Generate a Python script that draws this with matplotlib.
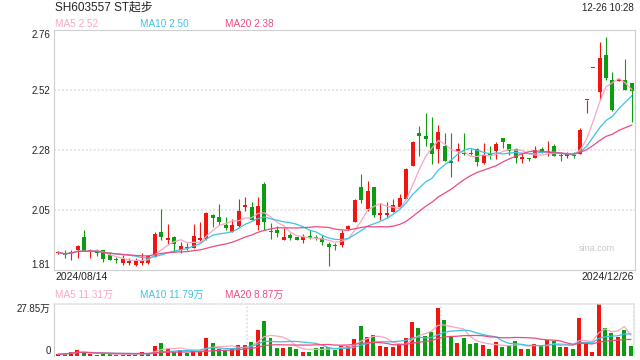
import matplotlib.pyplot as plt
import numpy as np
import pandas as pd

plt.rcParams["font.family"] = ["Liberation Sans", "Noto Sans CJK SC", "DejaVu Sans"]

# daily candles SH603557, 2024-08-14 .. 2024-12-26
opens = [
    1.878, 1.870, 1.878, 1.889, 1.942, 1.884, 1.889, 1.889, 1.869, 1.851,
    1.837, 1.837, 1.829, 1.838, 1.837, 1.862, 1.961, 1.929, 1.941, 1.889,
    1.899, 1.897, 1.929, 1.933, 2.028, 2.019, 1.988, 1.961, 1.984, 2.061,
    2.059, 1.988, 2.150, 1.964, 1.968, 1.929, 1.949, 1.940, 1.929, 1.946,
    1.937, 1.936, 1.913, 1.906, 1.909, 1.971, 2.001, 2.138, 2.050, 2.138,
    2.029, 2.029, 2.041, 2.058, 2.090, 2.222, 2.354, 2.341, 2.312, 2.288,
    2.301, 2.243, 2.281, 2.272, 2.270, 2.288, 2.233, 2.273, 2.281, 2.331,
    2.307, 2.289, 2.250, 2.251, 2.252, 2.289, 2.277, 2.302, 2.264, 2.263,
    2.264, 2.271, 2.482, 2.610, 2.513, 2.661, 2.562, 2.560, 2.562, 2.549,
]
closes = [
    1.880, 1.868, 1.882, 1.905, 1.886, 1.887, 1.879, 1.852, 1.849, 1.849,
    1.853, 1.845, 1.845, 1.845, 1.865, 1.953, 1.941, 1.937, 1.913, 1.905,
    1.897, 1.945, 1.937, 2.036, 2.017, 2.001, 1.976, 1.988, 2.044, 2.067,
    2.008, 2.063, 2.001, 1.961, 1.958, 1.942, 1.938, 1.929, 1.942, 1.936,
    1.936, 1.922, 1.901, 1.905, 1.955, 1.984, 2.087, 2.087, 2.123, 2.028,
    2.037, 2.037, 2.067, 2.096, 2.209, 2.318, 2.341, 2.329, 2.269, 2.358,
    2.243, 2.233, 2.288, 2.268, 2.268, 2.239, 2.265, 2.267, 2.307, 2.315,
    2.281, 2.254, 2.257, 2.249, 2.285, 2.278, 2.280, 2.263, 2.263, 2.272,
    2.263, 2.364, 2.482, 2.610, 2.650, 2.571, 2.443, 2.566, 2.522, 2.520,
]
highs = [
    1.884, 1.889, 1.890, 1.909, 1.969, 1.893, 1.892, 1.890, 1.880, 1.861,
    1.869, 1.857, 1.857, 1.877, 1.869, 1.961, 2.052, 1.992, 1.943, 1.921,
    1.917, 1.992, 2.000, 2.040, 2.030, 2.071, 2.020, 2.012, 2.091, 2.099,
    2.079, 2.099, 2.160, 1.997, 1.984, 1.976, 1.957, 1.940, 1.953, 1.968,
    1.949, 1.949, 1.922, 1.918, 1.968, 1.990, 2.090, 2.190, 2.163, 2.140,
    2.074, 2.080, 2.090, 2.110, 2.213, 2.322, 2.380, 2.433, 2.417, 2.384,
    2.351, 2.351, 2.312, 2.351, 2.288, 2.292, 2.312, 2.302, 2.318, 2.332,
    2.310, 2.292, 2.272, 2.255, 2.302, 2.298, 2.320, 2.310, 2.272, 2.278,
    2.278, 2.373, 2.482, 2.610, 2.714, 2.734, 2.593, 2.568, 2.645, 2.549,
]
lows = [
    1.874, 1.857, 1.850, 1.858, 1.886, 1.858, 1.866, 1.842, 1.848, 1.838,
    1.830, 1.830, 1.826, 1.830, 1.833, 1.862, 1.929, 1.913, 1.881, 1.877,
    1.889, 1.897, 1.921, 1.929, 1.980, 1.988, 1.968, 1.961, 1.980, 2.045,
    2.008, 1.968, 1.968, 1.932, 1.942, 1.929, 1.929, 1.929, 1.918, 1.932,
    1.929, 1.909, 1.825, 1.889, 1.900, 1.968, 2.001, 2.074, 2.045, 2.019,
    2.008, 2.015, 2.041, 2.058, 2.090, 2.222, 2.261, 2.301, 2.230, 2.233,
    2.243, 2.180, 2.243, 2.265, 2.265, 2.222, 2.230, 2.251, 2.251, 2.293,
    2.265, 2.233, 2.235, 2.241, 2.252, 2.272, 2.263, 2.263, 2.241, 2.255,
    2.255, 2.271, 2.430, 2.610, 2.483, 2.562, 2.440, 2.558, 2.522, 2.395,
]
# volume in 万 shares
volumes = [
    0.9, 1.3, 2.2, 3.3, 2.2, 0.9, 0.55, 1.3, 0.9, 0.55,
    0.9, 0.9, 1.3, 2.2, 1.3, 5.5, 6.8, 4.0, 2.2, 3.1,
    1.8, 2.7, 2.2, 9.9, 6.8, 3.7, 3.1, 3.7, 6.0, 6.0,
    7.3, 13.7, 18.7, 9.5, 4.2, 4.2, 4.9, 3.7, 2.4, 2.4,
    4.2, 4.9, 4.6, 3.3, 5.5, 5.5, 9.2, 15.9, 10.4, 11.5,
    5.5, 4.6, 4.9, 6.4, 9.7, 18.1, 14.8, 10.8, 12.6, 25.8,
    19.2, 10.8, 7.1, 9.7, 6.4, 6.8, 6.0, 3.7, 7.7, 4.6,
    5.5, 8.2, 4.0, 4.0, 6.4, 5.1, 8.6, 7.9, 4.6, 4.9,
    4.0, 20.3, 7.3, 2.4, 27.85, 14.8, 12.3, 10.1, 13.7, 5.5,
]

price_ticks = [1.81, 2.0475, 2.285, 2.5225, 2.76]
price_tick_labels = ["1.81", "2.05", "2.28", "2.52", "2.76"]
vol_ticks = [0, 27.85]
vol_tick_labels = ["0", "27.85万"]

title = "SH603557 ST起步"
timestamp = "12-26 10:28"
start_date = "2024/08/14"
end_date = "2024/12/26"
price_ma_labels = ["MA5 2.52", "MA10 2.50", "MA20 2.38"]
vol_ma_labels = ["MA5 11.31万", "MA10 11.79万", "MA20 8.87万"]

RED = "#f0150e"
GREEN = "#0b9c10"
MA_COLORS = ["#f9a6c3", "#3fc2e2", "#ec4b82"]
GRID = "#dedede"
BORDER = "#cfcfcf"
TEXT = "#222222"

df = pd.DataFrame({"open": opens, "close": closes, "high": highs,
                   "low": lows, "vol": volumes})
x = np.arange(len(df))
up = df["close"] >= df["open"]
colors = np.where(up, RED, GREEN)

W, H = 640, 360
fig = plt.figure(figsize=(W / 100, H / 100), dpi=100)


def box(left, top, right, bottom):
    return [left / W, 1 - bottom / H, (right - left) / W, (bottom - top) / H]


def ftext(px, py, s, **kw):
    fig.text(px / W, 1 - py / H, s, **kw)


# price panel
ax = fig.add_axes(box(54, 30, 635, 270))
ax.set_xlim(-0.65, len(df) - 0.5)
ax.set_ylim(price_ticks[0], price_ticks[-1])
for y in price_ticks[1:-1]:
    ax.axhline(y, color=GRID, lw=1.1, ls=(0, (1.3, 1.3)), zorder=0)

body_bottom = np.minimum(df["open"], df["close"])
body_height = np.maximum((df["close"] - df["open"]).abs(), 0.004)
ax.vlines(x, df["low"], df["high"], colors=colors, lw=0.8, zorder=2)
ax.bar(x, body_height, bottom=body_bottom, width=0.62, color=colors,
       linewidth=0, zorder=3)

for n, c in zip([5, 10, 20], MA_COLORS):
    ma = df["close"].rolling(n, min_periods=1).mean()
    ax.plot(x, ma, color=c, lw=0.9, zorder=4)

ax.set_xticks([])
ax.set_yticks(price_ticks)
ax.set_yticklabels(price_tick_labels)
ax.tick_params(axis="y", length=0, labelsize=7, pad=2.5, labelcolor=TEXT)
labels = ax.get_yticklabels()
labels[0].set_verticalalignment("bottom")
labels[-1].set_verticalalignment("top")
for s in ax.spines.values():
    s.set_color(BORDER)
    s.set_linewidth(0.8)
ax.text(0.935, 0.09, "sina.com", transform=ax.transAxes, fontsize=6.5,
        color="#c8c8c8", ha="center", va="center")

# volume panel
axv = fig.add_axes(box(54, 304, 634, 356))
axv.set_xlim(-0.65, len(df) - 0.5)
axv.set_ylim(vol_ticks[0], vol_ticks[-1])
axv.bar(x, df["vol"], width=0.62, color=colors, linewidth=0, zorder=2)
for n, c in zip([5, 10, 20], MA_COLORS):
    ma = df["vol"].rolling(n, min_periods=1).mean()
    axv.plot(x, ma, color=c, lw=0.9, zorder=3)
for fx in (1 / 3, 2 / 3):
    axv.plot([fx, fx], [0, 1], transform=axv.transAxes, color=GRID,
             lw=1.1, ls=(0, (1.3, 1.3)), zorder=0)
axv.set_xticks([])
axv.set_yticks(vol_ticks)
axv.set_yticklabels(vol_tick_labels)
axv.tick_params(axis="y", length=0, labelsize=7, pad=2.5, labelcolor=TEXT)
vlabels = axv.get_yticklabels()
vlabels[0].set_verticalalignment("bottom")
vlabels[-1].set_verticalalignment("top")
vlabels[-1].set_y(vol_ticks[-1])
axv.spines["bottom"].set_visible(False)
axv.spines["left"].set_color(BORDER)
axv.spines["left"].set_linewidth(0.8)
for side in ("top", "right"):
    axv.spines[side].set_color(GRID)
    axv.spines[side].set_linewidth(1.1)
    axv.spines[side].set_linestyle((0, (1.3, 1.3)))

# header texts
ftext(55, 8, title, fontsize=8.5, color=TEXT, ha="left", va="center")
ftext(634, 8, timestamp, fontsize=7, color=TEXT, ha="right", va="center")
for px, s, c in zip([55, 140, 225], price_ma_labels, MA_COLORS):
    ftext(px, 24, s, fontsize=7.2, color=c, ha="left", va="center")
ftext(55, 277, start_date, fontsize=7.5, color=TEXT, ha="left", va="center")
ftext(634, 277, end_date, fontsize=7.5, color=TEXT, ha="right", va="center")
for px, s, c in zip([55, 140, 225], vol_ma_labels, MA_COLORS):
    ftext(px, 295, s, fontsize=7.2, color=c, ha="left", va="center")

fig.savefig("out.png", dpi=100)
